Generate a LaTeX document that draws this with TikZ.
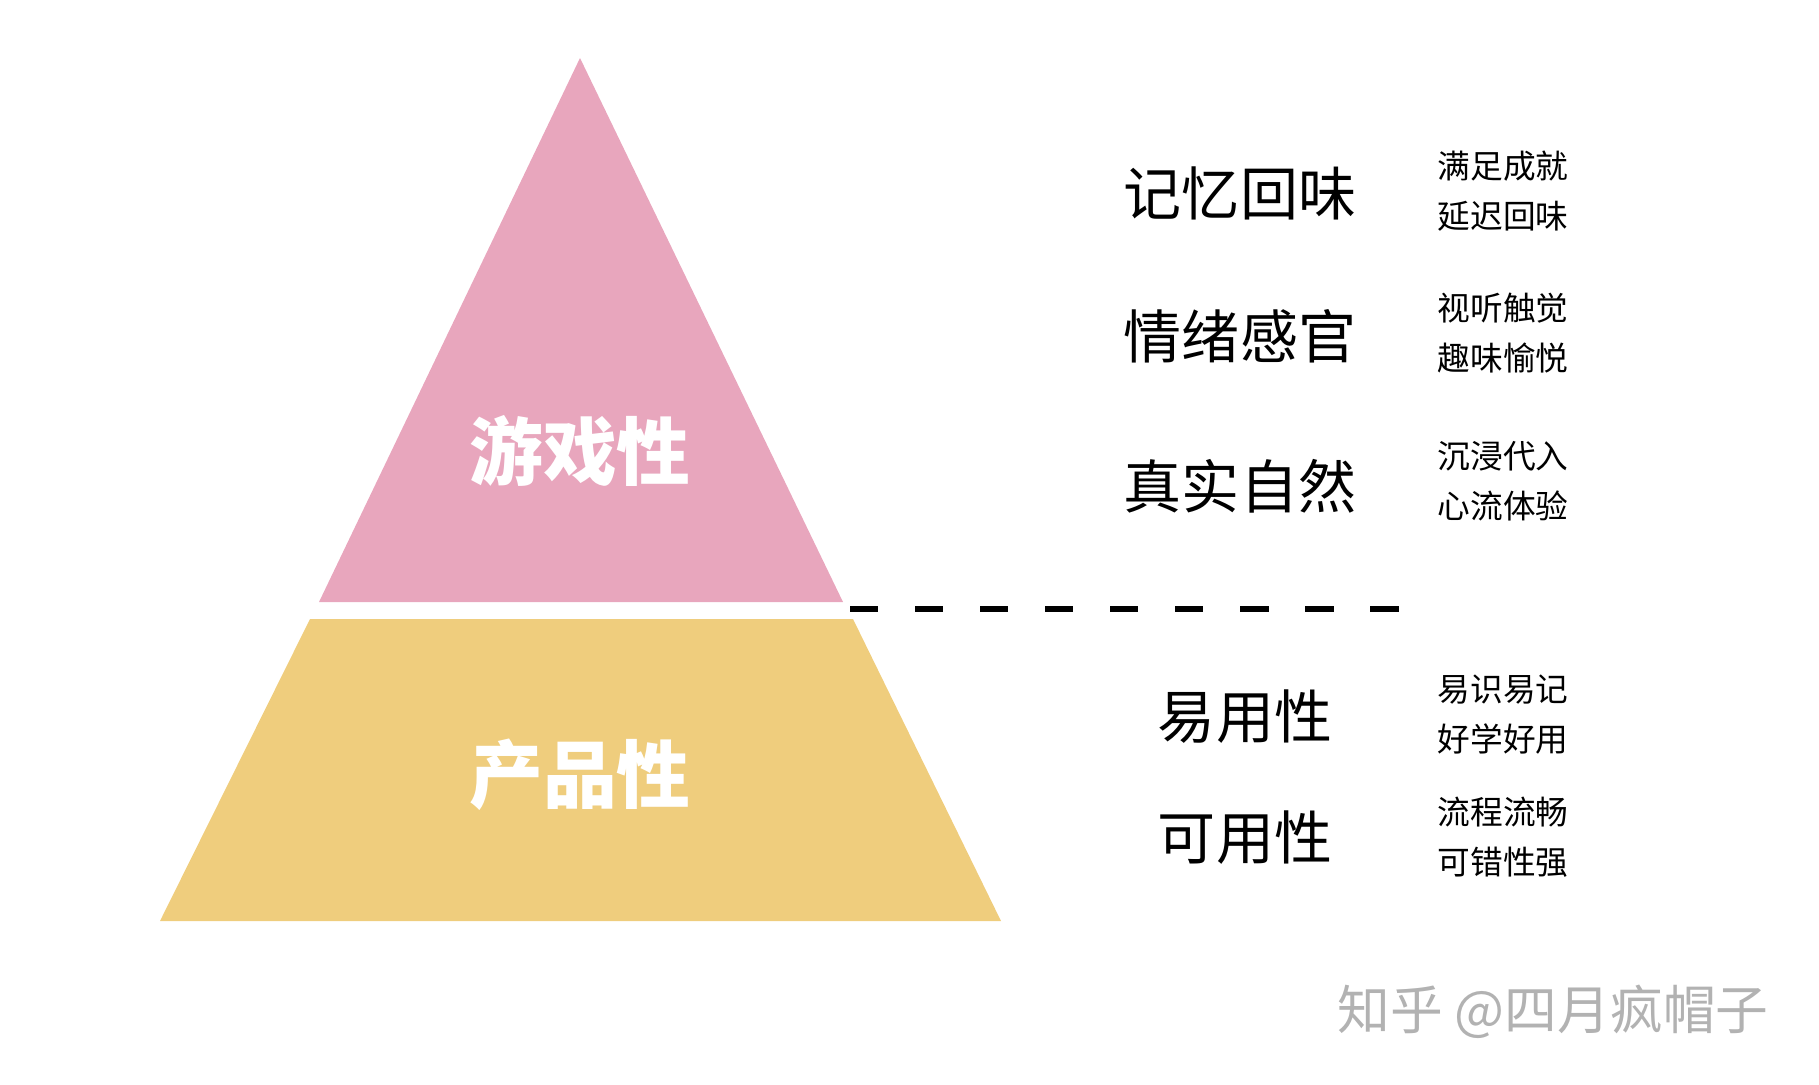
\documentclass[tikz,border=0pt]{standalone}
\usepackage{fontspec}
\newfontfamily\cjk{Noto Sans CJK SC}
\definecolor{pinkc}{HTML}{E8A6BD}
\definecolor{yelc}{HTML}{EFCD7D}
\begin{document}
\begin{tikzpicture}[x=0.01cm,y=-0.01cm,
 big/.style={font=\cjk\bfseries\fontsize{21}{24}\selectfont,text=white},
 mid/.style={font=\cjk\fontsize{16.5}{20}\selectfont},
 small/.style={font=\cjk\fontsize{9.3}{14.2}\selectfont,align=left}]
\useasboundingbox (0,0) rectangle (1819,1084);
\fill[pinkc] (580,58) -- (843,602) -- (319,602) -- cycle;
\fill[yelc] (310,619) -- (853,619) -- (1001,921) -- (160,921) -- cycle;
\coordinate (d1) at (850,609); \coordinate (d2) at (1432,609);
\draw[line width=1.6pt,dash pattern=on 8pt off 10.5pt] (d1) -- (d2);
\node[big] (g) at (580,451) {游戏性};
\node[big] (p) at (580,775) {产品性};
\node[mid] (m1) at (1240,193) {记忆回味};
\node[mid] (m2) at (1240,336) {情绪感官};
\node[mid] (m3) at (1240,486) {真实自然};
\node[mid] (m4) at (1245,717) {易用性};
\node[mid] (m5) at (1245,838) {可用性};
\node[small] (s1) at (1503,191) {满足成就\\延迟回味};
\node[small] (s2) at (1503,333) {视听触觉\\趣味愉悦};
\node[small] (s3) at (1503,481) {沉浸代入\\心流体验};
\node[small] (s4) at (1503,715) {易识易记\\好学好用};
\node[small] (s5) at (1503,837) {流程流畅\\可错性强};
\node[font=\cjk\fontsize{15}{17}\selectfont,text=black!30] (w) at (1553,1012) {知乎 @四月疯帽子};
\end{tikzpicture}
\end{document}
